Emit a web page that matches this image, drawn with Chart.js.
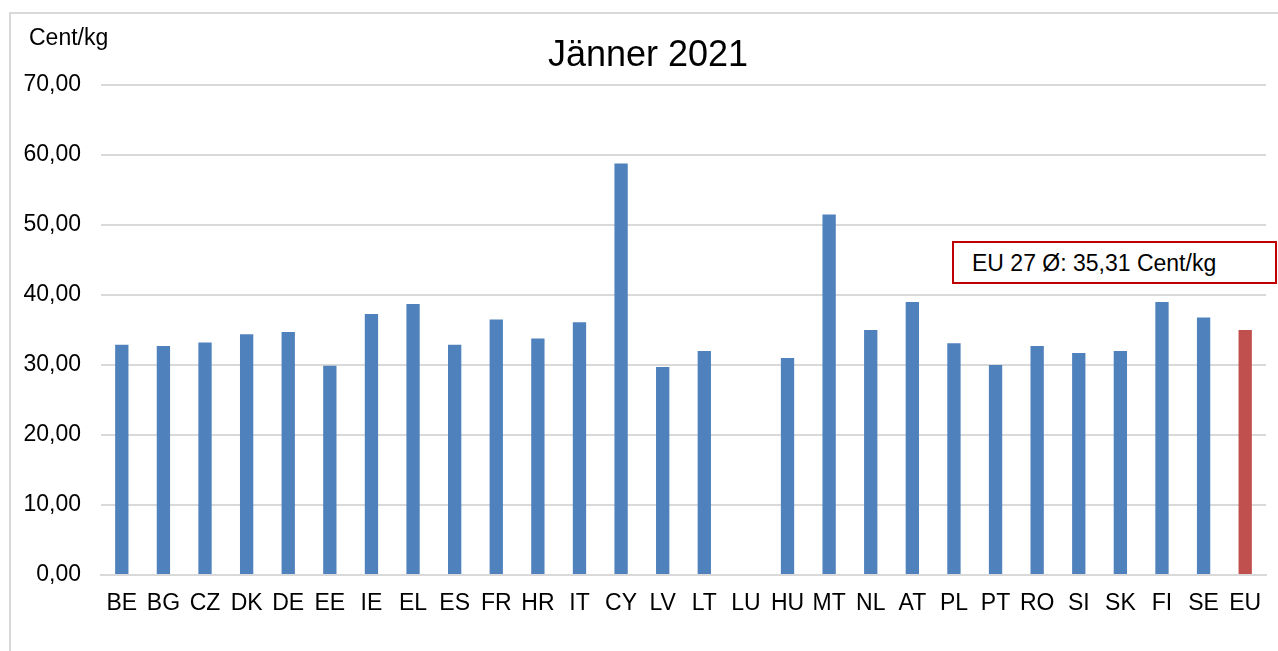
<!DOCTYPE html>
<html>
<head>
<meta charset="utf-8">
<script src="https://cdn.jsdelivr.net/npm/chart.js@4"></script>
<style>
  body { margin: 0; background: #fff; overflow: hidden; }
  #wrap { position: relative; width: 1278px; height: 651px; font-family: "Liberation Sans", Arial, sans-serif; }
  #frame { position: absolute; left: 9px; top: 12px; width: 1400px; height: 800px; border: 2px solid #d9d9d9; }
  canvas { position: absolute; left: 0; top: 0; }
  .txt { position: absolute; color: #000; white-space: nowrap; }
  #title { left: 448px; top: 36px; width: 400px; text-align: center; font-size: 36px; line-height: 36px; }
  #unit { left: 29px; top: 25.5px; font-size: 23px; line-height: 23px; }
  #note { left: 952px; top: 241px; width: 325px; height: 43px; box-sizing: border-box;
          border: 2px solid #c00000; padding: 9px 0 0 18px; font-size: 23px; line-height: 23px; background: #fff; }
</style>
</head>
<body>
<div id="wrap">
  <div id="frame"></div>
  <canvas id="chart" width="1278" height="651"></canvas>
  <div class="txt" id="title">Jänner 2021</div>
  <div class="txt" id="unit">Cent/kg</div>
  <div class="txt" id="note">EU 27 Ø: 35,31 Cent/kg</div>
</div>
<script>
// countries and price in Cent/kg
const countries = ["BE","BG","CZ","DK","DE","EE","IE","EL","ES","FR","HR","IT","CY","LV","LT","LU","HU","MT","NL","AT","PL","PT","RO","SI","SK","FI","SE","EU"];
const prices = [32.9, 32.7, 33.2, 34.4, 34.7, 29.9, 37.3, 38.7, 32.9, 36.5, 33.8, 36.1, 58.8, 29.7, 32.0, null, 31.0, 51.5, 35.0, 39.0, 33.1, 30.0, 32.7, 31.7, 32.0, 39.0, 36.8, 35.0];
const yTicks = [0, 10, 20, 30, 40, 50, 60, 70];

const blue = '#4f81bd'
const red = '#c0504d'

const ctx = document.querySelector('#chart').getContext('2d');

new Chart(ctx, {
  type: 'bar',
  data: {
    labels: countries,
    datasets: [{
      data: prices,
      backgroundColor: countries.map(c => c === "EU" ? red : blue),
      borderWidth: 0,
      categoryPercentage: 1,
      barPercentage: 0.32
    }]
  },
  options: {
    responsive: false,
    animation: false,
    layout: { padding: { top: 85, right: 12, left: 0, bottom: 0 } },
    plugins: {
      legend: { display: false },
      tooltip: { enabled: false }
    },
    scales: {
      x: {
        grid: { display: false, drawTicks: false },
        border: { display: true, color: '#d9d9d9', width: 2 },
        ticks: {
          color: '#000',
          padding: 15,
          maxRotation: 0,
          autoSkip: false,
          font: { family: 'Liberation Sans', size: 23 }
        },
        afterFit: scale => { scale.height = 76 }
      },
      y: {
        min: 0,
        max: 70,
        afterBuildTicks: scale => { scale.ticks = yTicks.map(v => ({ value: v })) },
        grid: { color: '#d9d9d9', lineWidth: 2, drawTicks: false },
        border: { display: false },
        ticks: {
          color: '#000',
          padding: 20,
          font: { family: 'Liberation Sans', size: 23 },
          callback: v => v.toFixed(2).replace('.', ',')
        },
        afterFit: scale => { scale.width = 101 }
      }
    }
  }
});
</script>
</body>
</html>
